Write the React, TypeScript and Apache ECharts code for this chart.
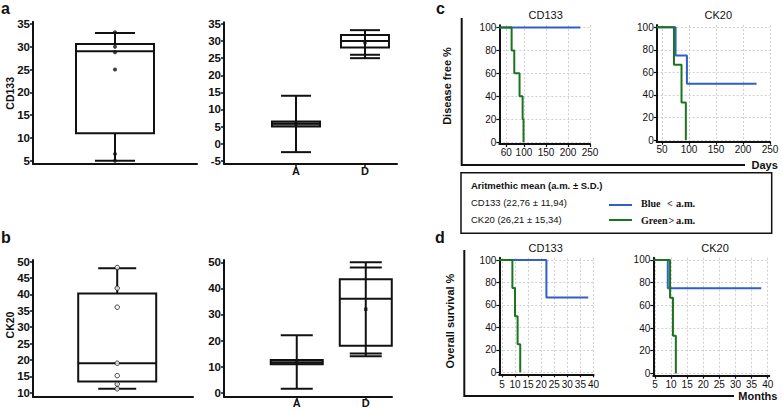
import React, { useEffect, useRef } from "react";
import * as echarts from "echarts";

// ---------- Data ----------
// Panel a (CD133)
const aBoxAll = [5, 11, 29, 30.6, 33]; // min, q1, median, q3, max
const aPointsAll = [33.2, 30, 28.8, 25, 6.5, 5];
const aGroups = ["A", "D"];
const aBoxA = [-2.5, 5, 5.8, 6.5, 14];
const aBoxD = [25, 28.1, 30, 31.8, 33.2];
const aGroupMeans = [5.9, 29.6];
const aExtraCaps = [[], [26]];
const aTicksAll = [5, 10, 15, 20, 25, 30, 35];
const aTicksGroups = [-5, 0, 5, 10, 15, 20, 25, 30, 35];

// Panel b (CK20)
const bBoxAll = [11.2, 13.4, 19, 40.3, 48];
const bPointsAll = [48.2, 41.9, 36.1, 19, 15.2, 12.6, 11.2];
const bGroups = ["A", "D"];
const bBoxA = [1.5, 10.9, 11.6, 12.5, 22];
const bBoxD = [14, 18, 36, 43.5, 50];
const bGroupMeans = [11.6, 32];
const bExtraCaps = [[], [15, 48]];
const bTicksAll = [10, 15, 20, 25, 30, 35, 40, 45, 50];
const bTicksGroups = [0, 10, 20, 30, 40, 50];

// Panel c (Disease free %, days)
const dfCD133BlueDays = [44, 228];
const dfCD133BlueSurv = [100, 100];
const dfCD133GreenDays = [44, 72, 78, 90, 97, 99];
const dfCD133GreenSurv = [100, 80, 60, 40, 20, 0];
const dfCK20BlueDays = [40, 75, 96, 225];
const dfCK20BlueSurv = [100, 75, 50, 50];
const dfCK20GreenDays = [40, 72, 86, 94];
const dfCK20GreenSurv = [100, 66.7, 33.3, 0];
const dfCD133DayTicks = [60, 100, 150, 200, 250];
const dfCK20DayTicks = [50, 100, 150, 200, 250];

// Panel d (Overall survival %, months)
const osCD133BlueMonths = [4, 22, 38];
const osCD133BlueSurv = [100, 66.7, 66.7];
const osCD133GreenMonths = [4, 9, 10, 11, 12];
const osCD133GreenSurv = [100, 75, 50, 25, 0];
const osCK20BlueMonths = [4.5, 9, 38];
const osCK20BlueSurv = [100, 75, 75];
const osCK20GreenMonths = [4.5, 9.7, 10.6, 11.5];
const osCK20GreenSurv = [100, 66.7, 33.3, 0];
const osMonthTicks = [5, 10, 15, 20, 25, 30, 35, 40];
const survTicks = [0, 20, 40, 60, 80, 100];

// Legend texts
const legendTitle = "Aritmethic mean (a.m. ± S.D.)";
const legendCD133 = "CD133 (22,76 ± 11,94)";
const legendCK20 = "CK20 (26,21 ± 15,34)";

// ---------- Styles ----------
const FONT = "'Liberation Sans', Arial, Helvetica, sans-serif";
const SERIF = "'Liberation Serif', 'Times New Roman', serif";
const INK = "#111";
const BLUE = "#2f5fc8";
const GREEN = "#1c741c";

const zip = (xs: number[], ys: number[]) => xs.map((x, i) => [x, ys[i]]);

function makeBoxRender(hw: number, capHw: number, fills: string[], extraCaps: number[][], through: boolean) {
  return function (params: any, api: any) {
    const x = api.value(0);
    const lo = api.value(1), q1 = api.value(2), med = api.value(3), q3 = api.value(4), hi = api.value(5);
    const p = (v: number) => api.coord([x, v]);
    const cx = p(med)[0];
    const yLo = p(lo)[1], yQ1 = p(q1)[1], yMed = p(med)[1], yQ3 = p(q3)[1], yHi = p(hi)[1];
    const stroke = { stroke: INK, lineWidth: 2 };
    const whisker = { type: "line", shape: { x1: cx, y1: yHi, x2: cx, y2: yLo }, style: stroke };
    const box = {
      type: "rect",
      shape: { x: cx - hw, y: yQ3, width: 2 * hw, height: yQ1 - yQ3 },
      style: { fill: fills[params.dataIndex], stroke: INK, lineWidth: 2 },
    };
    const median = { type: "line", shape: { x1: cx - hw, y1: yMed, x2: cx + hw, y2: yMed }, style: stroke };
    const capVals = [lo, hi, ...(extraCaps[params.dataIndex] || [])];
    const caps = capVals.map((v) => {
      const y = p(v)[1];
      return { type: "line", shape: { x1: cx - capHw, y1: y, x2: cx + capHw, y2: y }, style: stroke };
    });
    const children = through ? [box, whisker, median, ...caps] : [whisker, box, median, ...caps];
    return { type: "group", children };
  };
}

const boxYAxis = (gi: number, min: number, max: number, ticks: number[]) => ({
  gridIndex: gi,
  type: "value",
  min,
  max,
  axisLine: { show: true, onZero: false, lineStyle: { color: INK, width: 2 } },
  axisTick: { show: true, inside: false, length: 3, customValues: ticks, lineStyle: { color: INK, width: 1.5 } },
  axisLabel: { customValues: ticks, margin: 3, color: INK, fontSize: 11.5, fontWeight: "bold", fontFamily: FONT },
  splitLine: { show: false },
});

const boxXAxis = (gi: number, min: number, max: number, groups: string[] | null) => ({
  gridIndex: gi,
  type: "value",
  min,
  max,
  axisLine: { show: true, onZero: false, lineStyle: { color: INK, width: 2 } },
  axisTick: groups
    ? { show: true, length: 3, customValues: groups.map((_, i) => i + 1), lineStyle: { color: INK, width: 1.5 } }
    : { show: false },
  axisLabel: groups
    ? {
        customValues: groups.map((_, i) => i + 1),
        formatter: (v: number) => groups[Math.round(v) - 1] ?? "",
        margin: 1,
        color: INK,
        fontSize: 11,
        fontWeight: "bold",
        fontFamily: FONT,
      }
    : { show: false },
  splitLine: { show: false },
});

const kmSplit = { show: true, lineStyle: { color: "#cfcfcf", type: [2, 2], width: 1 } };

const kmXAxis = (gi: number, min: number, max: number, ticks: number[], margin: number) => ({
  gridIndex: gi,
  type: "value",
  min,
  max,
  axisLine: { show: true, onZero: false, lineStyle: { color: INK, width: 2 } },
  axisTick: { show: true, length: 3, customValues: ticks, lineStyle: { color: INK, width: 1.2 } },
  axisLabel: { customValues: ticks, margin, color: INK, fontSize: 10, fontFamily: FONT },
  splitLine: kmSplit,
});

const kmYAxis = (gi: number, min: number, max: number) => ({
  gridIndex: gi,
  type: "value",
  min,
  max,
  axisLine: { show: true, onZero: false, lineStyle: { color: INK, width: 2 } },
  axisTick: { show: true, length: 3, customValues: survTicks, lineStyle: { color: INK, width: 1.2 } },
  axisLabel: { customValues: survTicks, margin: 3, color: INK, fontSize: 10, fontFamily: FONT },
  splitLine: kmSplit,
});

const kmLine = (gi: number, data: number[][], color: string) => ({
  type: "line",
  xAxisIndex: gi,
  yAxisIndex: gi,
  data,
  step: "end",
  symbol: "none",
  showSymbol: false,
  lineStyle: { color, width: 2 },
  z: color === GREEN ? 4 : 3,
});

const grid = (left: number, top: number, width: number, height: number) => ({
  left,
  top,
  width,
  height,
  containLabel: false,
  outerBoundsMode: "none",
});

const txt = (text: string, x: number, y: number, opts: any = {}) => ({
  type: "text",
  x,
  y,
  rotation: opts.rotation || 0,
  style: {
    text,
    fill: INK,
    fontSize: opts.fontSize || 11,
    fontWeight: opts.fontWeight || "normal",
    fontFamily: opts.fontFamily || FONT,
    align: opts.align || "center",
    verticalAlign: opts.verticalAlign || "middle",
  },
});

const option: any = {
  animation: false,
  backgroundColor: "#fff",
  grid: [
    grid(33, 21.7, 164, 142.3), // a left
    grid(224, 22.3, 173, 141.7), // a right
    grid(33, 260, 160, 136.7), // b left
    grid(224, 260, 168, 136.7), // b right
    grid(499.3, 25.2, 90.7, 118.8), // c left
    grid(656.7, 25, 113.3, 116.7), // c right
    grid(499.3, 257.8, 94.2, 116.5), // d left
    grid(653.3, 257.7, 116, 118), // d right
  ],
  xAxis: [
    boxXAxis(0, 0, 2, null),
    boxXAxis(1, -0.043, 2.464, aGroups),
    boxXAxis(2, 0, 1.9, null),
    boxXAxis(3, -0.054, 2.38, bGroups),
    kmXAxis(4, 44, 250, dfCD133DayTicks, 3),
    kmXAxis(5, 40, 250, dfCK20DayTicks, 3),
    kmXAxis(6, 4, 40, osMonthTicks, 5),
    kmXAxis(7, 4.5, 40.5, osMonthTicks, 4),
  ],
  yAxis: [
    boxYAxis(0, 4.28, 35.5, aTicksAll),
    boxYAxis(1, -5.97, 35.5, aTicksGroups),
    boxYAxis(2, 8.78, 50.5, bTicksAll),
    boxYAxis(3, -1.53, 50.9, bTicksGroups),
    kmYAxis(4, -1.6, 102),
    kmYAxis(5, -1.5, 102),
    kmYAxis(6, -1.8, 102),
    kmYAxis(7, -2, 102),
  ],
  series: [
    {
      type: "custom",
      xAxisIndex: 0,
      yAxisIndex: 0,
      encode: { x: 0, y: [1, 2, 3, 4, 5] },
      renderItem: makeBoxRender(39, 20, ["#fff"], [[]], false),
      data: [[1, ...aBoxAll]],
    },
    {
      type: "scatter",
      xAxisIndex: 0,
      yAxisIndex: 0,
      symbolSize: 4,
      itemStyle: { color: INK },
      data: aPointsAll.map((v) => [1, v]),
      z: 5,
    },
    {
      type: "custom",
      xAxisIndex: 1,
      yAxisIndex: 1,
      encode: { x: 0, y: [1, 2, 3, 4, 5] },
      renderItem: makeBoxRender(24, 15, ["#8a8a8a", "none"], aExtraCaps, true),
      data: [
        [1, ...aBoxA],
        [2, ...aBoxD],
      ],
    },
    {
      type: "scatter",
      xAxisIndex: 1,
      yAxisIndex: 1,
      symbol: "rect",
      symbolSize: 3.5,
      itemStyle: { color: INK },
      data: aGroupMeans.map((v, i) => [i + 1, v]),
      z: 5,
    },
    {
      type: "custom",
      xAxisIndex: 2,
      yAxisIndex: 2,
      encode: { x: 0, y: [1, 2, 3, 4, 5] },
      renderItem: makeBoxRender(39, 19, ["#fff"], [[]], false),
      data: [[1, ...bBoxAll]],
    },
    {
      type: "scatter",
      xAxisIndex: 2,
      yAxisIndex: 2,
      symbolSize: 4.5,
      itemStyle: { color: "#fff", borderColor: INK, borderWidth: 1 },
      data: bPointsAll.map((v) => [1, v]),
      z: 5,
    },
    {
      type: "custom",
      xAxisIndex: 3,
      yAxisIndex: 3,
      encode: { x: 0, y: [1, 2, 3, 4, 5] },
      renderItem: makeBoxRender(26, 16, ["#8a8a8a", "none"], bExtraCaps, true),
      data: [
        [1, ...bBoxA],
        [2, ...bBoxD],
      ],
    },
    {
      type: "scatter",
      xAxisIndex: 3,
      yAxisIndex: 3,
      symbol: "rect",
      symbolSize: 3.5,
      itemStyle: { color: INK },
      data: bGroupMeans.map((v, i) => [i + 1, v]),
      z: 5,
    },
    kmLine(4, zip(dfCD133BlueDays, dfCD133BlueSurv), BLUE),
    kmLine(4, zip(dfCD133GreenDays, dfCD133GreenSurv), GREEN),
    kmLine(5, zip(dfCK20BlueDays, dfCK20BlueSurv), BLUE),
    kmLine(5, zip(dfCK20GreenDays, dfCK20GreenSurv), GREEN),
    kmLine(6, zip(osCD133BlueMonths, osCD133BlueSurv), BLUE),
    kmLine(6, zip(osCD133GreenMonths, osCD133GreenSurv), GREEN),
    kmLine(7, zip(osCK20BlueMonths, osCK20BlueSurv), BLUE),
    kmLine(7, zip(osCK20GreenMonths, osCK20GreenSurv), GREEN),
  ],
  graphic: [
    // panel letters
    txt("a", 1, 8.2, { fontSize: 16, fontWeight: "bold", align: "left" }),
    txt("b", 1, 237, { fontSize: 16, fontWeight: "bold", align: "left" }),
    txt("c", 436, 8.2, { fontSize: 16, fontWeight: "bold", align: "left" }),
    txt("d", 435, 237.5, { fontSize: 16, fontWeight: "bold", align: "left" }),
    // box plot axis names
    txt("CD133", 10, 93.3, { fontSize: 10.5, fontWeight: "bold", rotation: Math.PI / 2 }),
    txt("CK20", 10, 325, { fontSize: 10.5, fontWeight: "bold", rotation: Math.PI / 2 }),
    // KM titles
    txt("CD133", 545.7, 15, { fontSize: 11 }),
    txt("CK20", 718.3, 14.5, { fontSize: 11 }),
    txt("CD133", 545.7, 248.3, { fontSize: 11 }),
    txt("CK20", 715, 248.3, { fontSize: 11 }),
    // KM axis names
    txt("Disease free %", 446.7, 86, { fontSize: 11, fontWeight: "bold", rotation: Math.PI / 2 }),
    txt("Overall survival %", 450, 321, { fontSize: 11, fontWeight: "bold", rotation: Math.PI / 2 }),
    txt("Days", 751.5, 164.5, { fontSize: 11, fontWeight: "bold", align: "left" }),
    txt("Months", 738.3, 396, { fontSize: 11, fontWeight: "bold", align: "left" }),
    // frames
    {
      type: "polyline",
      shape: { points: [[461.7, 18], [461.7, 165], [745, 165]] },
      style: { stroke: INK, lineWidth: 2, fill: "none" },
    },
    {
      type: "polyline",
      shape: { points: [[464.3, 250], [464.3, 396], [734, 396]] },
      style: { stroke: INK, lineWidth: 2, fill: "none" },
    },
    // legend box
    {
      type: "rect",
      shape: { x: 461, y: 172.7, width: 310.7, height: 60.6 },
      style: { fill: "#fff", stroke: INK, lineWidth: 1.5 },
    },
    txt(legendTitle, 471, 185.7, { fontSize: 9.5, fontWeight: "bold", align: "left" }),
    txt(legendCD133, 471, 202.7, { fontSize: 9.5, align: "left" }),
    txt(legendCK20, 471, 219, { fontSize: 9.5, align: "left" }),
    { type: "line", shape: { x1: 609, y1: 205, x2: 632, y2: 205 }, style: { stroke: BLUE, lineWidth: 2 } },
    { type: "line", shape: { x1: 609, y1: 220, x2: 632, y2: 220 }, style: { stroke: GREEN, lineWidth: 2 } },
    txt("Blue", 641, 203.5, { fontSize: 10, fontWeight: "bold", align: "left", fontFamily: SERIF }),
    txt("<", 667, 203.5, { fontSize: 10, fontWeight: "bold", align: "left", fontFamily: SERIF }),
    txt("a.m.", 676, 203.5, { fontSize: 10.5, fontWeight: "bold", align: "left", fontFamily: SERIF }),
    txt("Green", 641, 220, { fontSize: 10, fontWeight: "bold", align: "left", fontFamily: SERIF }),
    txt(">", 668.5, 220, { fontSize: 10, fontWeight: "bold", align: "left", fontFamily: SERIF }),
    txt("a.m.", 676, 220, { fontSize: 10.5, fontWeight: "bold", align: "left", fontFamily: SERIF }),
  ],
};

export default function App() {
  const ref = useRef<HTMLDivElement>(null);
  useEffect(() => {
    if (!ref.current) return;
    const chart = echarts.init(ref.current, null, { renderer: "svg" });
    chart.setOption(option);
    return () => chart.dispose();
  }, []);
  return (
    <div
      ref={ref}
      style={{ position: "fixed", left: 0, top: 0, width: 782, height: 410, background: "#fff" }}
    />
  );
}
